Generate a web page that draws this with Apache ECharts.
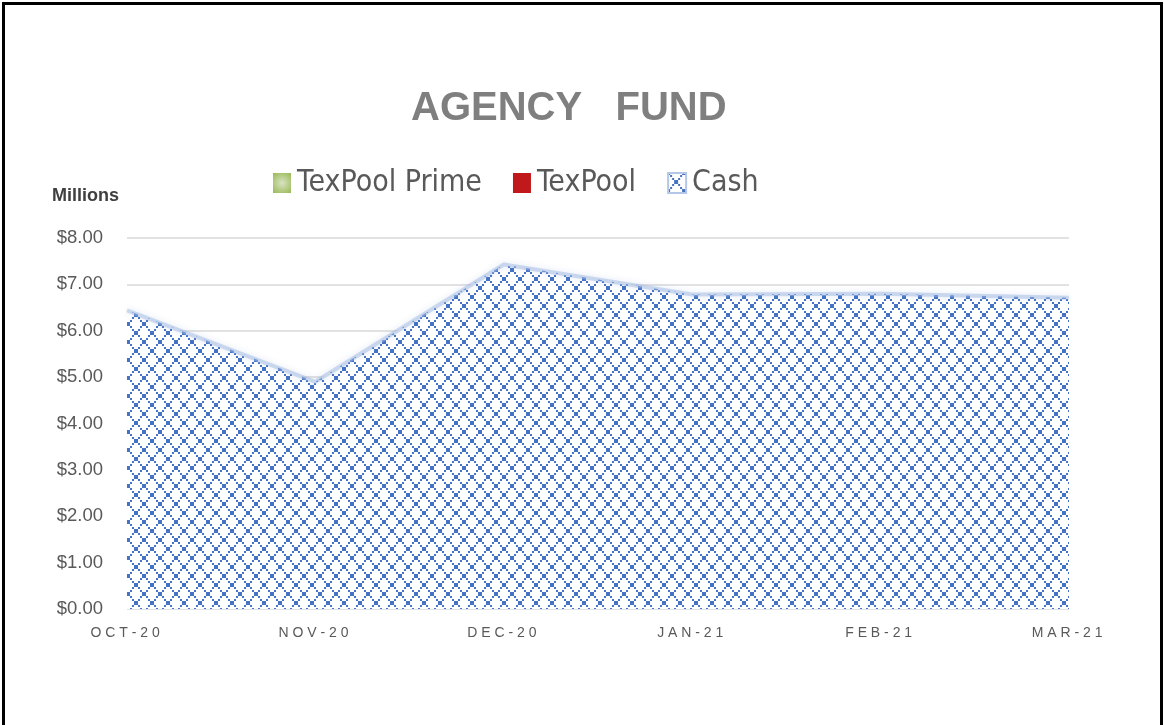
<!DOCTYPE html>
<html>
<head>
<meta charset="utf-8">
<script src="https://cdn.jsdelivr.net/npm/echarts@6/dist/echarts.min.js"></script>
<style>
  html, body { margin: 0; padding: 0; background: #fff; }
  #wrap { position: relative; width: 1164px; height: 725px; overflow: hidden; }
  #chart { position: absolute; left: 0; top: 0; width: 1164px; height: 725px; }
  #frame { position: absolute; left: 2px; top: 2px; width: 1155px; height: 760px; border: 3px solid #000; pointer-events: none; }
</style>
</head>
<body>
<div id="wrap">
  <div id="chart"></div>
  <div id="frame"></div>
</div>
<script>
const months = ['OCT-20', 'NOV-20', 'DEC-20', 'JAN-21', 'FEB-21', 'MAR-21'];
const cashValues = [6.44, 4.90, 7.43, 6.78, 6.80, 6.71];
const primeValues = [];
const texpoolValues = [];
const seriesNames = ['TexPool Prime', 'TexPool', 'Cash'];

// diamond crosshatch like the office pattern fill, drawn as pixel steps
function makePattern() {
  const w = 16, h = 18;
  const c = document.createElement('canvas');
  c.width = w; c.height = h;
  const ctx = c.getContext('2d');
  ctx.fillStyle = '#fff';
  ctx.fillRect(0, 0, w, h);
  ctx.fillStyle = '#4472C4';
  for (let i = 0; i < w; i += 2) {
    const y = Math.round(i * h / w);
    ctx.fillRect(i, y, 2, 2);
    ctx.fillRect(w - 2 - i, y, 2, 2);
  }
  return c;
}
const hatch = { image: makePattern(), repeat: 'repeat' };

const spaced = s => s.split('').join(' ') + ' ';

const chart = echarts.init(document.getElementById('chart'));
chart.setOption({
  animation: false,
  title: {
    text: 'AGENCY   FUND',
    left: 406,
    top: 84,
    textStyle: { fontFamily: 'Liberation Sans', fontSize: 40, fontWeight: 'bold', color: '#7f7f7f' }
  },
  legend: {
    data: seriesNames,
    top: 163,
    left: 268,
    itemWidth: 18,
    itemHeight: 20,
    itemGap: 31,
    icon: 'rect',
    textStyle: {
      fontFamily: "'DejaVu Sans Condensed', sans-serif",
      fontSize: 30,
      color: '#595959',
      padding: [0, 0, 0, 1]
    }
  },
  graphic: [{
    type: 'text',
    left: 52,
    top: 187,
    style: { text: 'Millions', font: 'bold 18px "Liberation Sans"', fill: '#404040' }
  }],
  grid: { left: 127, right: 95, top: 238, bottom: 116 },
  xAxis: {
    type: 'category',
    boundaryGap: false,
    data: months,
    axisLine: { show: false },
    axisTick: { show: false },
    axisLabel: {
      margin: 17,
      fontFamily: 'Liberation Sans',
      fontSize: 14,
      color: '#595959',
      formatter: v => spaced(v)
    }
  },
  yAxis: {
    type: 'value',
    min: 0,
    max: 8,
    interval: 1,
    axisLine: { show: false },
    axisTick: { show: false },
    splitLine: { lineStyle: { color: '#d9d9d9', width: 1.5 } },
    axisLabel: {
      margin: 24,
      fontFamily: 'Liberation Sans',
      fontSize: 18.5,
      color: '#595959',
      formatter: v => '$' + v.toFixed(2)
    }
  },
  series: [
    {
      name: 'TexPool Prime',
      type: 'line',
      data: primeValues,
      itemStyle: {
        color: new echarts.graphic.RadialGradient(0.5, 0.5, 0.7, [
          { offset: 0, color: '#d9e3c3' },
          { offset: 1, color: '#9bbb59' }
        ])
      }
    },
    {
      name: 'TexPool',
      type: 'line',
      data: texpoolValues,
      itemStyle: { color: '#c0181b' }
    },
    {
      name: 'Cash',
      type: 'line',
      data: cashValues,
      symbol: 'none',
      itemStyle: { color: hatch, borderColor: '#b4c7e7', borderWidth: 1 },
      lineStyle: { color: 'rgba(160,185,225,0.5)', width: 4, shadowBlur: 6, shadowColor: 'rgba(68,114,196,0.3)' },
      areaStyle: { color: hatch, opacity: 1 }
    }
  ]
});
</script>
</body>
</html>
